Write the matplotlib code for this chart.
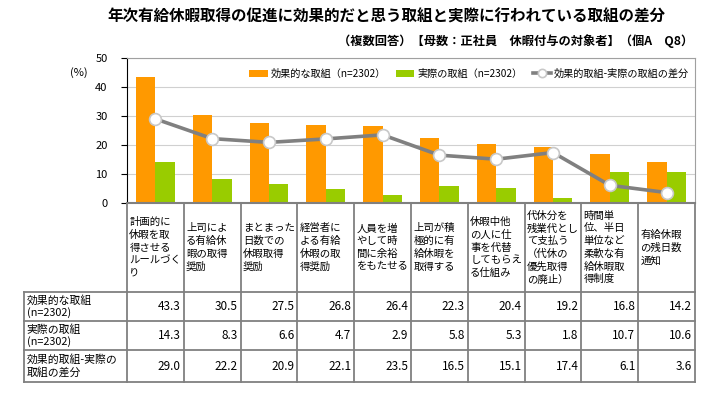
import numpy as np
import matplotlib
matplotlib.use("Agg")
import matplotlib.pyplot as plt

plt.rcParams['font.family'] = ['Noto Sans CJK JP', 'DejaVu Sans']

# -----------------------
# データ
# -----------------------
categories = [
    "計画的に\n休暇を取\n得させる\nルールづく\nり",
    "上司によ\nる有給休\n暇の取得\n奨励",
    "まとまった\n日数での\n休暇取得\n奨励",
    "経営者に\nよる有給\n休暇の取\n得奨励",
    "人員を増\nやして時\n間に余裕\nをもたせる",
    "上司が積\n極的に有\n給休暇を\n取得する",
    "休暇中他\nの人に仕\n事を代替\nしてもらえ\nる仕組み",
    "代休分を\n残業代とし\nて支払う\n（代休の\n優先取得\nの廃止）",
    "時間単\n位、半日\n単位など\n柔軟な有\n給休暇取\n得制度",
    "有給休暇\nの残日数\n通知",
]
effective = [43.3, 30.5, 27.5, 26.8, 26.4, 22.3, 20.4, 19.2, 16.8, 14.2]
actual = [14.3, 8.3, 6.6, 4.7, 2.9, 5.8, 5.3, 1.8, 10.7, 10.6]
diff = [29.0, 22.2, 20.9, 22.1, 23.5, 16.5, 15.1, 17.4, 6.1, 3.6]

series_names = ["効果的な取組（n=2302）", "実際の取組（n=2302）", "効果的取組-実際の取組の差分"]
row_labels = ["効果的な取組\n(n=2302)", "実際の取組\n(n=2302)", "効果的取組-実際の\n取組の差分"]

ORANGE = "#FF9900"
GREEN = "#99CC00"
GRAY = "#808080"
GRID = "#D0D0D0"

W, H = 716, 394
fig = plt.figure(figsize=(W / 100, H / 100), dpi=100)

def px_rect(x0, y0, x1, y1):
    # ピクセル座標 -> figure座標
    return [x0 / W, 1 - y1 / H, (x1 - x0) / W, (y1 - y0) / H]

# -----------------------
# グラフ本体
# -----------------------
ax = fig.add_axes(px_rect(127, 58, 695, 203))
x = np.arange(len(categories))
bw = 0.34
b1 = ax.bar(x - bw / 2, effective, bw, color=ORANGE, label=series_names[0], zorder=2)
b2 = ax.bar(x + bw / 2, actual, bw, color=GREEN, label=series_names[1], zorder=2)
l1, = ax.plot(x, diff, color=GRAY, lw=2.6, marker='o', ms=8.5, mfc='white',
              mec='#C8C8C8', mew=1.2, label=series_names[2], zorder=3)

ax.set_xlim(-0.5, len(categories) - 0.5)
ax.set_ylim(0, 50)
ax.set_yticks(range(0, 51, 10))
ax.tick_params(axis='y', labelsize=8, length=4, direction='out', pad=10)
ax.set_xticks([])
ax.grid(axis='y', color=GRID, lw=0.8, zorder=0)
for s in ['top', 'right']:
    ax.spines[s].set_color('#A0A0A0')
ax.spines['left'].set_color('black')
ax.spines['bottom'].set_color(GRAY)
ax.spines['bottom'].set_linewidth(1.5)

ax.legend([b1, b2, l1], series_names, loc='upper right', ncol=3, frameon=False,
          fontsize=7.3, handlelength=1.8, handletextpad=0.3, columnspacing=1.0,
          bbox_to_anchor=(1.0, 0.97), borderaxespad=0.2, markerscale=0.7)

fig.text(70 / W, 1 - 73 / H, "(%)", fontsize=8, ha='left', va='center')

fig.text(386 / W, 1 - 17 / H,
         "年次有給休暇取得の促進に効果的だと思う取組と実際に行われている取組の差分",
         fontsize=11.2, fontweight='bold', ha='center', va='center')
fig.text(693 / W, 1 - 41 / H,
         "（複数回答）【母数：正社員　休暇付与の対象者】（個A　Q8）",
         fontsize=8.8, fontweight='bold', ha='right', va='center')

# -----------------------
# データテーブル
# -----------------------
lab_w = (127 - 24) / ((695 - 127) / len(categories))
tx = fig.add_axes(px_rect(24, 203, 695, 382))
tx.set_xlim(-0.5 - lab_w, len(categories) - 0.5)
row_edges = [0, 89, 118, 147, 179]
tx.set_ylim(row_edges[-1], 0)
tx.axis('off')

lc = "#808080"
lw = 1.3
# ヘッダ行の縦線
for i in range(len(categories) + 1):
    tx.plot([i - 0.5, i - 0.5], [0, row_edges[1]], color=lc, lw=lw, clip_on=False)
# データ行の枠線
for r in row_edges[1:]:
    tx.plot([-0.5 - lab_w, len(categories) - 0.5], [r, r], color=lc, lw=lw, clip_on=False)
for xe in [-0.5 - lab_w] + [i - 0.5 for i in range(len(categories) + 1)]:
    tx.plot([xe, xe], [row_edges[1], row_edges[-1]], color=lc, lw=lw, clip_on=False)

for i, c in enumerate(categories):
    tx.text(i - 0.46, row_edges[1] / 2, c, fontsize=7.5, linespacing=1.33,
            ha='left', va='center')

values = [effective, actual, diff]
for r, (lab, vals) in enumerate(zip(row_labels, values)):
    yc = (row_edges[r + 1] + row_edges[r + 2]) / 2
    tx.text(-0.5 - lab_w + 0.05, yc, lab, fontsize=7.8, linespacing=1.15,
            ha='left', va='center')
    for i, v in enumerate(vals):
        tx.text(i + 0.45, yc, f"{v:.1f}", fontsize=8.5, ha='right', va='center')

fig.savefig("out.png", dpi=100)
